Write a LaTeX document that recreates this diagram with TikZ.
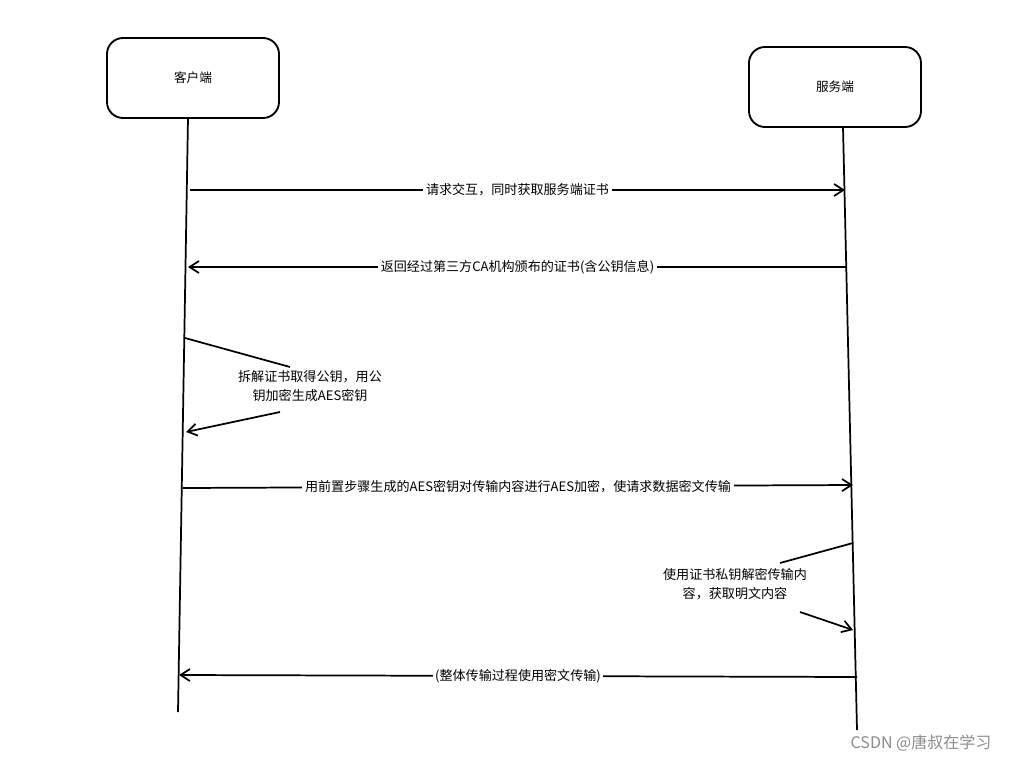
\documentclass[tikz,border=0pt]{standalone}
\usepackage{fontspec}
\setmainfont{Noto Sans CJK SC}
\usetikzlibrary{arrows.meta}
\begin{document}
\begin{tikzpicture}[x=0.75pt,y=-0.75pt,
  box/.style={draw,line width=1.4pt,rounded corners=12pt,minimum width=129pt,minimum height=60pt,font=\fontsize{9.5}{11}\selectfont},
  life/.style={line width=1.3pt},
  msg/.style={line width=1.3pt,-{Straight Barb[length=7pt,width=9pt]}},
  lbl/.style={fill=white,inner sep=2pt,font=\fontsize{9.8}{11}\selectfont},
  note/.style={align=center,font=\fontsize{9.8}{14}\selectfont}]
\useasboundingbox (0,0) rectangle (1011,761);
\node[box] (c) at (193,78) {客户端};
\node[box] (s) at (835,87) {服务端};
\coordinate (cb) at (178,712);
\coordinate (sb) at (857,730);
\draw[life] (188,118) -- (cb);
\draw[life] (843,127) -- (sb);
% msg 1
\coordinate (a1) at (190,190); \coordinate (b1) at (845,190);
\draw[msg] (a1) -- (b1) node[lbl,midway] (l1) {请求交互，同时获取服务端证书};
\coordinate (a2) at (847,267); \coordinate (b2) at (188,267);
\draw[msg] (a2) -- (b2) node[lbl,midway] (l2) {返回经过第三方CA机构颁布的证书(含公钥信息)};
% self client
\node[note] (n1) at (310,386) {拆解证书取得公钥，用公\\钥加密生成AES密钥};
\coordinate (p1) at (185,338); \coordinate (p2) at (290,367);
\coordinate (p3) at (280,412); \coordinate (p4) at (186,432);
\draw[line width=1.3pt] (p1) -- (p2);
\draw[msg] (p3) -- (p4);
% msg 3
\coordinate (a3) at (183,488); \coordinate (b3) at (853,485);
\draw[msg] (a3) -- (b3) node[lbl,midway] (l3) {用前置步骤生成的AES密钥对传输内容进行AES加密，使请求数据密文传输};
% self server
\node[note] (n2) at (735,584) {使用证书私钥解密传输内\\容，获取明文内容};
\coordinate (q1) at (853,543); \coordinate (q2) at (780,563);
\coordinate (q3) at (800,612); \coordinate (q4) at (853,630);
\draw[line width=1.3pt] (q1) -- (q2);
\draw[msg] (q3) -- (q4);
% msg 4
\coordinate (a4) at (857,677); \coordinate (b4) at (179,675);
\draw[msg] (a4) -- (b4) node[lbl,midway] (l4) {(整体传输过程使用密文传输)};
\node[text=black!45,font=\fontsize{12}{14}\selectfont] (wm) at (921,743) {CSDN @唐叔在学习};
\end{tikzpicture}
\end{document}
